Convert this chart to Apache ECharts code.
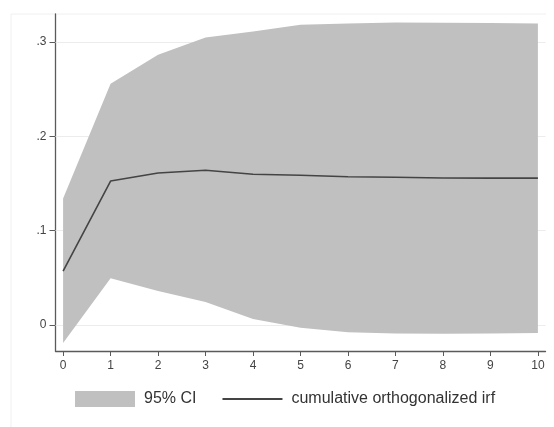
<!DOCTYPE html>
<html>
<head>
<meta charset="utf-8">
<script src="https://cdn.jsdelivr.net/npm/echarts@6/dist/echarts.min.js"></script>
<style>html,body{margin:0;padding:0;background:#fff;}#c{width:554px;height:427px;}</style>
</head>
<body>
<div id="c"></div>
<script>
var steps = [0, 1, 2, 3, 4, 5, 6, 7, 8, 9, 10];
var irf = [0.057, 0.1525, 0.161, 0.164, 0.1597, 0.1586, 0.1571, 0.1565, 0.1557, 0.1556, 0.1556];
var upper = [0.134, 0.2555, 0.2863, 0.3047, 0.311, 0.318, 0.3195, 0.3206, 0.3202, 0.3200, 0.3195];
var lower = [-0.019, 0.0496, 0.036, 0.0244, 0.0064, -0.003, -0.0076, -0.0091, -0.0092, -0.0090, -0.0085];
var yTicks = [0, 0.1, 0.2, 0.3];
var xTicks = [0, 1, 2, 3, 4, 5, 6, 7, 8, 9, 10];

var chart = echarts.init(document.getElementById('c'), null, {renderer: 'canvas'});
var font = 'Liberation Sans, Arial, sans-serif';
function fmtY(v) {
  if (Math.abs(v) < 1e-9) return '0';
  return v.toFixed(1).replace(/^0/, '');
}
function renderBand(params, api) {
  var pts = [];
  for (var i = 0; i < steps.length; i++) pts.push(api.coord([steps[i], upper[i]]));
  for (var j = steps.length - 1; j >= 0; j--) pts.push(api.coord([steps[j], lower[j]]));
  return {type: 'polygon', shape: {points: pts}, style: {fill: '#c0c0c0', stroke: null}};
}
chart.setOption({
  animation: false,
  backgroundColor: '#fff',
  graphic: [
    {type: 'line', shape: {x1: 11, y1: 14, x2: 11, y2: 427}, style: {stroke: '#f0f0f0', lineWidth: 1}, silent: true},
    {type: 'line', shape: {x1: 11, y1: 14, x2: 546, y2: 14}, style: {stroke: '#f0f0f0', lineWidth: 1}, silent: true}
  ],
  grid: {left: 55.5, right: 8.5, top: 14, bottom: 76, containLabel: false},
  xAxis: {
    type: 'value', min: -0.16, max: 10.16,
    axisLine: {show: true, onZero: false, lineStyle: {color: '#5a5a5a', width: 1.3}},
    axisTick: {show: true, length: 5, customValues: xTicks, lineStyle: {color: '#5a5a5a'}},
    axisLabel: {customValues: xTicks, margin: 9, fontSize: 12, color: '#444', fontFamily: font},
    splitLine: {show: false}
  },
  yAxis: {
    type: 'value', min: -0.0276, max: 0.3295,
    axisLine: {show: true, onZero: false, lineStyle: {color: '#5a5a5a', width: 1.3}},
    axisTick: {show: true, length: 6, customValues: yTicks, lineStyle: {color: '#5a5a5a'}},
    axisLabel: {customValues: yTicks, margin: 9, fontSize: 12, color: '#444', fontFamily: font, formatter: fmtY},
    splitLine: {show: false}
  },
  legend: {
    left: 75, top: 391, padding: 0, itemWidth: 60, itemHeight: 16, itemGap: 25,
    textStyle: {fontSize: 16, color: '#333', fontFamily: font, padding: [0, 0, 0, 4]},
    data: [
      {name: '95% CI', icon: 'rect', itemStyle: {color: '#c0c0c0'}},
      {name: 'cumulative orthogonalized irf', itemStyle: {opacity: 0}, lineStyle: {color: '#444', width: 2}}
    ]
  },
  series: [
    {
      name: 'grid', type: 'line', data: [], z: 1, silent: true,
      markLine: {
        z: 1, silent: true, symbol: 'none', label: {show: false},
        lineStyle: {color: '#ececec', width: 1, type: 'solid'},
        data: yTicks.map(function (v) { return {yAxis: v}; })
      }
    },
    {
      name: '95% CI', type: 'custom', z: 2, silent: true,
      itemStyle: {color: '#c0c0c0'},
      renderItem: renderBand,
      data: [[steps[0], upper[0]]]
    },
    {
      name: 'cumulative orthogonalized irf', type: 'line', z: 3,
      symbol: 'none', color: '#444', lineStyle: {color: '#444', width: 1.6},
      data: steps.map(function (s, i) { return [s, irf[i]]; })
    }
  ]
});
</script>
</body>
</html>
